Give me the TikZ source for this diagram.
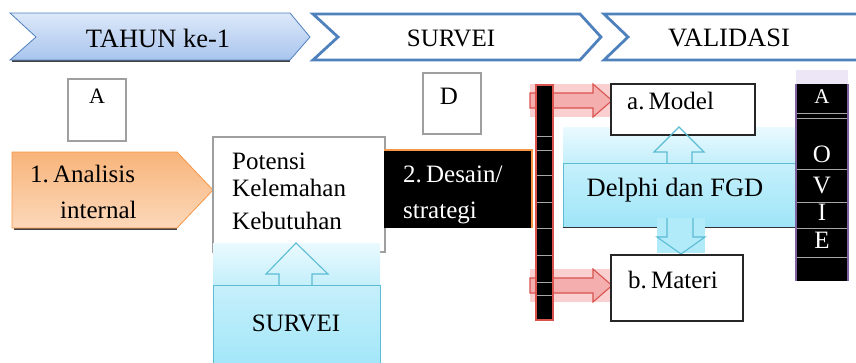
\documentclass[tikz,border=0pt]{standalone}
\usepackage{fontspec}
\setmainfont{Liberation Serif}
\usetikzlibrary{positioning,calc}
\definecolor{chevblue}{HTML}{4F81BD}
\definecolor{chevtop}{HTML}{DCE8F9}
\definecolor{chevbot}{HTML}{A9C5EE}
\definecolor{orgline}{HTML}{F79646}
\definecolor{orgtop}{HTML}{F8B47A}
\definecolor{orgbot}{HTML}{FCD8BA}
\definecolor{cyanline}{HTML}{5BBCD4}
\definecolor{cyanpaleA}{HTML}{EAFAFE}
\definecolor{cyanpaleB}{HTML}{C4EFFB}
\definecolor{cyanboxA}{HTML}{C6F0FB}
\definecolor{cyanboxB}{HTML}{9EE5F8}
\definecolor{redline}{HTML}{D9534F}
\definecolor{redfill}{HTML}{F4A9A9}
\definecolor{pinkback}{HTML}{F9CFCF}
\definecolor{purpline}{HTML}{8064A2}
\definecolor{lavend}{HTML}{ECE6F6}

\begin{document}
\begin{tikzpicture}[x=1pt, y=-1pt,
  chevron/.style={draw=chevblue, line width=2.8pt, fill=white, line join=miter},
  chevfirst/.style={draw=chevblue, line width=0.8pt, top color=chevtop, bottom color=chevbot},
  orgarrow/.style={draw=orgline, line width=0.8pt, top color=orgtop, bottom color=orgbot},
  graybox/.style={rectangle, draw=gray!75, line width=1.2pt, fill=white, inner sep=0pt},
  blkbox/.style={rectangle, draw=black!85, line width=1.3pt, fill=white, inner sep=0pt},
  blkfill/.style={rectangle, fill=black, inner sep=0pt},
  cyanbox/.style={rectangle, draw=cyanline, line width=1pt, top color=cyanboxA,
    bottom color=cyanboxB, inner sep=0pt},
  cyanarr/.style={draw=cyanline, line width=1.1pt, line join=miter},
  redarr/.style={draw=redline, line width=1.1pt, fill=redfill, fill opacity=0.85},
  txt/.style={font=\fontsize{25}{30}\selectfont, inner sep=0pt},
  bigtxt/.style={font=\fontsize{26.5}{30}\selectfont, inner sep=0pt},
  wtxt/.style={txt, text=white},
  shadowline/.style={black!75, line width=1.6pt},
]
\useasboundingbox (0,0) rectangle (856,362);

\draw[shadowline] (12,61) -- (290,61);
\draw[chevfirst] (10,13) -- (290,13) -- (310,37) -- (290,60) -- (10,60) -- (36,37) -- cycle;
\draw[chevron] (313,14) -- (580,14) -- (601,37) -- (580,60) -- (313,60) -- (338,37) -- cycle;
\draw[chevron] (604,14) -- (880,14) -- (880,60) -- (604,60) -- (628,37) -- cycle;
\node[bigtxt] (tahun) at (158,38) {TAHUN ke-1};
\node[txt] (survA) at (451,38) {SURVEI};
\node[bigtxt] (valid) at (729,38) {VALIDASI};

\node[graybox, minimum width=58pt, minimum height=62pt] (boxA) at (97,110) {};
\node[txt, font=\fontsize{22}{26}\selectfont] (lblA) at (97,96) {A};
\node[graybox, minimum width=58pt, minimum height=61pt] (boxD) at (452,103.5) {};
\node[txt] (lblD) at (449,96) {D};

\draw[shadowline] (14,229) -- (177,229);
\draw[orgarrow] (12,152) -- (177,152) -- (213,190) -- (177,228) -- (12,228) -- cycle;
\node[txt, anchor=base west] (anl1) at (30,182) {1.\,Analisis};
\node[txt, anchor=base west] (anl2) at (60,218) {internal};

\node[graybox, minimum width=172pt, minimum height=115pt] (pot) at (299,194.5) {};
\node[txt, anchor=base west] (pot1) at (232,169) {Potensi};
\node[txt, anchor=base west] (pot2) at (232,196) {Kelemahan};
\node[txt, anchor=base west] (pot3) at (232,229) {Kebutuhan};

\fill[top color=cyanpaleA, bottom color=cyanpaleB] (213,243) rectangle (380,285);
\node[cyanbox, minimum width=167pt, minimum height=90pt] (survB) at (296.5,330) {};
\draw[cyanarr] (279,285) -- (279,274) -- (266,274) -- (296,243) -- (328,274)
  -- (312,274) -- (312,285);
\node[txt] (survT) at (296,323) {SURVEI};

\node[blkfill, minimum width=148pt, minimum height=78pt] (desain) at (458,189) {};
\draw[orgline, line width=1.5pt] (desain.north west) -- (desain.north east) -- (desain.south east);
\node[wtxt, anchor=base west] (des1) at (403,182) {2.\,Desain/};
\node[wtxt, anchor=base west] (des2) at (403,218) {strategi};

\fill[pinkback] (530,84) rectangle (612,117);
\fill[pinkback] (530,269) rectangle (612,302);
\draw[redarr] (530,93) -- (593,93) -- (593,84) -- (612,100.5) -- (593,117) -- (593,108)
  -- (530,108) -- cycle;
\draw[redarr] (530,278) -- (593,278) -- (593,269) -- (612,285.5) -- (593,302) -- (593,293)
  -- (530,293) -- cycle;
\node[blkfill, draw=redline, line width=1.6pt, minimum width=17pt, minimum height=235pt]
  (bar) at (544.5,202.5) {};
\foreach \yy in {136,150,175,202,228,255,282,295}
  \draw[gray!70, line width=0.4pt] (537,\yy) -- (552,\yy);

\fill[top color=cyanpaleA, bottom color=cyanpaleB] (563,127) rectangle (795,163);
\node[blkbox, minimum width=144pt, minimum height=51pt] (model) at (683,109.5) {};
\node[txt, anchor=base west] (modT) at (627,109) {a.\,Model};
\node[cyanbox, minimum width=232pt, minimum height=64pt] (delphi) at (679,195) {};
\draw[black!80, line width=1.6pt] (delphi.south west) -- (delphi.south east);
\draw[cyanarr] (667,163) -- (667,152) -- (654,152) -- (679,127) -- (704,152) -- (692,152)
  -- (692,163);
\node[bigtxt, anchor=base] (delT) at (675,196) {Delphi dan FGD};
\fill[cyanboxB!80] (657,218) rectangle (705,253);
\draw[cyanarr] (667,218) -- (667,237) -- (657,237) -- (681,254) -- (705,237) -- (693,237)
  -- (693,218);

\node[blkbox, minimum width=132pt, minimum height=66pt] (materi) at (677,288) {};
\node[txt, anchor=base west] (matT) at (628,288) {b.\,Materi};

\fill[lavend] (796,70) rectangle (848,84);
\node[blkfill, minimum width=52pt, minimum height=197pt] (ovie) at (822,182.5) {};
\draw[purpline, line width=1.6pt] (ovie.north west) -- (ovie.south west)
  (ovie.north east) -- (ovie.south east);
\foreach \yy in {113,118,169,202,228,257}
  \draw[gray!70, line width=0.4pt] (797,\yy) -- (847,\yy);
\node[wtxt, font=\fontsize{21}{24}\selectfont, anchor=base] (ovA) at (822,103) {A};
\foreach \ch/\yy in {O/162,V/193,I/220,E/248}
  \node[wtxt, anchor=base] (ov\ch) at (822,\yy) {\ch};
\end{tikzpicture}
\end{document}
